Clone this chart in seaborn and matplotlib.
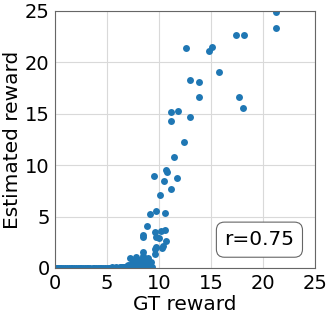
import matplotlib
matplotlib.use("Agg")
import pandas as pd
import seaborn as sns
import matplotlib.pyplot as plt

# points (GT reward, estimated reward)
gt_upper = [21.25, 21.25, 17.4, 18.2, 12.6, 14.8, 15.1, 15.8, 13.0, 13.8,
            13.8, 17.7, 18.1, 11.1, 11.8, 11.1, 13.0, 12.4, 11.45, 9.5,
            10.65, 10.8, 10.5, 11.7, 11.1, 10.1, 9.1, 9.75, 10.6, 8.85,
            8.44, 8.42, 9.62, 10.2, 10.6, 9.75, 10.0, 10.7, 9.65, 9.72,
            10.3, 10.4, 9.6]
est_upper = [24.9, 23.3, 22.7, 22.7, 21.4, 21.1, 21.5, 19.1, 18.3, 18.1,
             16.6, 16.6, 15.6, 15.2, 15.3, 14.3, 14.7, 12.2, 10.8, 8.9,
             9.5, 9.3, 8.5, 8.7, 7.7, 7.1, 5.2, 5.5, 5.3, 4.1,
             3.2, 3.05, 3.5, 3.6, 3.65, 3.0, 2.9, 2.65, 1.85, 2.0,
             1.95, 2.1, 1.35]

gt_cluster = [8.44, 8.9, 7.16, 7.77, 8.15, 8.5, 7.35, 7.9, 8.47, 9.0,
              7.5, 6.9, 8.6, 7.6, 8.8, 9.2, 7.0, 8.3, 7.7, 8.0,
              9.1, 6.7, 7.4, 8.2, 8.95, 7.25, 6.5, 8.65, 9.3, 7.85]
est_cluster = [1.55, 0.97, 0.97, 1.07, 0.8, 1.2, 0.5, 0.33, 0.33, 0.16,
               0.16, 0.16, 0.65, 0.65, 0.45, 0.55, 0.3, 0.2, 0.7, 0.1,
               0.05, 0.12, 0.1, 0.5, 0.3, 0.05, 0.08, 0.1, 0.05, 0.2]

gt_band = [0.02, 0.15, 0.3, 0.45, 0.6, 0.8, 0.95, 1.1, 1.3, 1.5,
           1.65, 1.8, 2.0, 2.2, 2.35, 2.5, 2.7, 2.9, 3.05, 3.2,
           3.4, 3.6, 3.75, 3.9, 4.1, 4.3, 4.45, 4.6, 4.8, 5.0,
           5.15, 5.3, 5.5, 5.7, 5.85, 6.0, 6.2, 6.35, 6.5, 6.65,
           6.8, 6.95, 7.1, 7.2]
est_band = [0.0, 0.01, 0.0, 0.02, 0.0, 0.01, 0.0, 0.02, 0.0, 0.01,
            0.0, 0.02, 0.0, 0.01, 0.03, 0.0, 0.01, 0.02, 0.0, 0.01,
            0.0, 0.02, 0.01, 0.0, 0.03, 0.01, 0.0, 0.02, 0.04, 0.01,
            0.0, 0.03, 0.05, 0.02, 0.06, 0.04, 0.08, 0.05, 0.1, 0.07,
            0.12, 0.09, 0.15, 0.1]

r_text = "r=0.75"

df = pd.DataFrame({
    "gt": gt_upper + gt_cluster + gt_band,
    "est": est_upper + est_cluster + est_band,
})

sns.set_style("whitegrid")
plt.rcParams["text.color"] = "black"
plt.rcParams["axes.labelcolor"] = "black"
plt.rcParams["xtick.color"] = "black"
plt.rcParams["ytick.color"] = "black"

fig = plt.figure(figsize=(3.32, 3.19), dpi=100)
ax = fig.add_axes([0.166, 0.160, 0.783, 0.806])

sns.scatterplot(data=df, x="gt", y="est", ax=ax, s=25, color="#1f77b4",
                linewidth=0, legend=False)

ax.set_xlim(0, 25)
ax.set_ylim(0, 25)
ax.set_xticks([0, 5, 10, 15, 20, 25])
ax.set_yticks([0, 5, 10, 15, 20, 25])
ax.tick_params(labelsize=14, length=3, color="0.4", pad=1)
ax.grid(True, color="0.85", linewidth=0.8)
for sp in ax.spines.values():
    sp.set_color("0.4")
    sp.set_linewidth(0.8)
ax.set_xlabel("GT reward", fontsize=14.5, labelpad=2)
ax.set_ylabel("Estimated reward", fontsize=14.5, labelpad=2)

ax.text(0.786, 0.11, r_text, transform=ax.transAxes, fontsize=14.5,
        ha="center", va="center",
        bbox=dict(boxstyle="round,pad=0.4", facecolor="white",
                  edgecolor="0.4", linewidth=0.8))

fig.savefig("out.png", dpi=100)
